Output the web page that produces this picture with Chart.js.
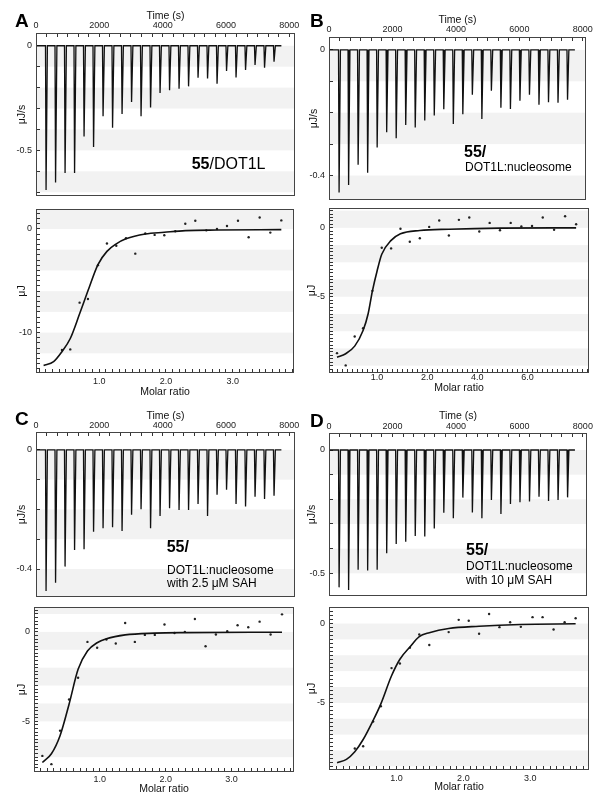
<!DOCTYPE html>
<html>
<head>
<meta charset="utf-8">
<script src="https://cdn.jsdelivr.net/npm/chart.js@4"></script>
<style>
  body { margin: 0; width: 602px; height: 806px; position: relative; overflow: hidden; background: #fff;
         font-family: "Liberation Sans", Arial, sans-serif; }
  canvas { position: absolute; }
  .t { position: absolute; white-space: nowrap; line-height: 1; color: #000; }
  .letter { font-size: 19px; font-weight: bold; }
  .big { font-size: 16px; }
  .small { font-size: 12px; }
</style>
</head>
<body>
<script>
// injection times (s), same protocol for all four runs
const injTimes = [300, 600, 900, 1200, 1500, 1800, 2100, 2400, 2700, 3000, 3300, 3600, 3900,
                  4200, 4500, 4800, 5100, 5400, 5700, 6000, 6300, 6600, 6900, 7200, 7500];
const traceEnd = 7750;

// peak heights of the raw thermograms (μJ/s)
const peaksA = [-0.689, -0.654, -0.608, -0.608, -0.434, -0.484, -0.337, -0.392, -0.326, -0.269, -0.337, -0.295, -0.226,
                -0.213, -0.205, -0.194, -0.153, -0.156, -0.181, -0.121, -0.152, -0.116, -0.092, -0.105, -0.076];
const peaksB = [-0.454, -0.430, -0.366, -0.391, -0.311, -0.262, -0.281, -0.239, -0.247, -0.225, -0.209, -0.189, -0.236,
                -0.205, -0.143, -0.220, -0.130, -0.184, -0.188, -0.162, -0.143, -0.175, -0.167, -0.168, -0.159];
const peaksC = [-0.474, -0.446, -0.392, -0.336, -0.334, -0.275, -0.263, -0.260, -0.272, -0.218, -0.199, -0.263, -0.222,
                -0.196, -0.202, -0.202, -0.182, -0.222, -0.151, -0.134, -0.182, -0.190, -0.157, -0.165, -0.154];
const peaksD = [-0.557, -0.568, -0.486, -0.489, -0.486, -0.419, -0.381, -0.372, -0.349, -0.351, -0.318, -0.254, -0.277,
                -0.193, -0.253, -0.277, -0.203, -0.259, -0.219, -0.212, -0.209, -0.189, -0.207, -0.203, -0.192];

// integrated heats (μJ) vs molar ratio, and fitted curves
const ratioA = [0.44, 0.565, 0.705, 0.83, 0.98, 1.115, 1.255, 1.40, 1.54, 1.69, 1.83, 1.975, 2.14, 2.29, 2.44, 2.605,
                2.765, 2.915, 3.08, 3.24, 3.405, 3.565, 3.73];
const heatA = [-11.68, -11.62, -7.11, -6.76, -3.49, -1.40, -1.62, -0.89, -2.38, -0.44, -0.57, -0.60, -0.22, 0.51, 0.79,
               -0.13, 0.0, 0.29, 0.79, -0.79, 1.11, -0.35, 0.83];
const fitRatioA = [0.165, 0.315, 0.44, 0.565, 0.705, 0.83, 0.98, 1.115, 1.255, 1.4, 1.69, 1.975, 2.29, 2.765, 3.73];
const fitHeatA = [-13.17, -12.8, -11.84, -10.57, -8.19, -5.97, -3.43, -2.16, -1.43, -0.95, -0.48, -0.32, -0.16, -0.1, -0.06];

// panel B axis is drawn with tick slots 1..4 labelled 1.0, 2.0, 4.0, 6.0 (as printed)
const ratioB = [0.2, 0.373, 0.553, 0.72, 0.907, 1.093, 1.28, 1.467, 1.653, 1.853, 2.04, 2.24, 2.433, 2.633, 2.84,
                3.04, 3.247, 3.453, 3.667, 3.88, 4.093, 4.307, 4.533, 4.753, 4.973];
const heatB = [-9.09, -9.98, -7.88, -7.28, -4.57, -1.44, -1.49, -0.07, -1.01, -0.75, 0.07, 0.53, -0.55, 0.58, 0.75,
               -0.26, 0.36, -0.17, 0.36, 0.1, 0.14, 0.75, -0.14, 0.84, 0.26];
const fitRatioB = [0.2, 0.373, 0.553, 0.72, 0.82, 0.907, 1.0, 1.093, 1.28, 1.467, 1.853, 2.433, 3.453, 4.973];
const fitHeatB = [-9.38, -9.13, -8.58, -7.45, -6.25, -4.57, -3.13, -1.92, -0.91, -0.43, -0.19, -0.1, -0.02, 0];

const ratioC = [0.129, 0.266, 0.397, 0.534, 0.671, 0.813, 0.96, 1.101, 1.243, 1.385, 1.532, 1.684, 1.835, 1.982,
                2.134, 2.291, 2.443, 2.605, 2.762, 2.934, 3.091, 3.253, 3.425, 3.592, 3.765];
const heatC = [-6.93, -7.39, -5.52, -3.78, -2.56, -0.56, -0.89, -0.43, -0.65, 0.5, -0.56, -0.17, -0.17, 0.41, -0.06,
               0, 0.72, -0.8, -0.15, 0.04, 0.37, 0.26, 0.57, -0.15, 0.98];
const fitRatioC = [0.129, 0.266, 0.397, 0.534, 0.671, 0.813, 0.96, 1.101, 1.385, 1.835, 2.291, 3.765];
const fitHeatC = [-7.3, -6.81, -5.8, -4.04, -2.09, -1.07, -0.61, -0.39, -0.17, -0.07, -0.04, -0.02];

const ratioD = [0.375, 0.5, 0.65, 0.765, 0.925, 1.05, 1.2, 1.34, 1.49, 1.78, 1.93, 2.08, 2.235, 2.385, 2.54, 2.7,
                2.86, 3.035, 3.185, 3.35, 3.515, 3.68];
const heatD = [-7.875, -7.73, -6.17, -5.21, -2.81, -2.52, -1.52, -0.69, -1.35, -0.54, 0.23, 0.17, -0.65, 0.6, -0.23,
               0.08, -0.21, 0.4, 0.4, -0.375, 0.08, 0.33];
const fitRatioD = [0.11, 0.25, 0.375, 0.5, 0.65, 0.765, 0.925, 1.05, 1.2, 1.34, 1.49, 1.78, 2.235, 2.85, 3.68];
const fitHeatD = [-8.77, -8.56, -8.08, -7.31, -6.1, -5.06, -3.29, -2.25, -1.48, -0.83, -0.58, -0.31, -0.17, -0.06, -0.02];

// tick labels
const timeTicks = [0, 2000, 4000, 6000, 8000];
const ratioTicks = [1, 2, 3];
const ratioTicksB = [1, 2, 3, 4];
const ratioTextB = ['1.0', '2.0', '4.0', '6.0'];

const FONT = '"Liberation Sans", Arial, sans-serif';
const TICK_FONT = { family: FONT, size: 9 };
const TITLE_FONT = { family: FONT, size: 10.5 };

// light striped background + frame round the plot area
Chart.register({
  id: 'bands',
  defaults: { step: 0, phase: 1, color: '#f2f2f2' },
  beforeDraw(chart, args, opts) {
    const { ctx, chartArea: a, scales: { y } } = chart;
    if (!opts.step) return;
    ctx.save();
    ctx.fillStyle = opts.color;
    for (let k = Math.floor(y.min / opts.step); k * opts.step < y.max; k++) {
      if (Math.abs(k % 2) !== opts.phase) continue;
      const y0 = y.getPixelForValue(Math.min((k + 1) * opts.step, y.max));
      const y1 = y.getPixelForValue(Math.max(k * opts.step, y.min));
      ctx.fillRect(a.left, y0, a.right - a.left, y1 - y0);
    }
    ctx.restore();
  },
  afterDraw(chart) {
    const { ctx, chartArea: a } = chart;
    ctx.save();
    ctx.strokeStyle = '#444';
    ctx.lineWidth = 1;
    ctx.strokeRect(a.left + 0.5, a.top + 0.5, a.right - a.left - 1, a.bottom - a.top - 1);
    ctx.restore();
  }
});

function stepValues(min, max, step) {
  const out = [];
  for (let k = Math.ceil(min / step - 1e-9); k * step <= max + 1e-9; k++) {
    out.push(Math.round(k * step * 1e6) / 1e6);
  }
  return out;
}

function labelFor(v, marks, texts) {
  const i = marks.findIndex(m => Math.abs(m - v) < 1e-6 * Math.max(1, Math.abs(m)));
  return i < 0 ? '' : texts[i];
}

// builds a thermogram trace from the read peak heights
function trace(peaks) {
  const pts = [{ x: 0, y: 0 }];
  injTimes.forEach((t, i) => {
    pts.push({ x: t, y: 0 }, { x: t + 18, y: peaks[i] }, { x: t + 60, y: 0 });
  });
  pts.push({ x: traceEnd, y: 0 });
  return pts;
}

function xy(xs, ys) {
  return xs.map((x, i) => ({ x: x, y: ys[i] }));
}

function panel(o) {
  const c = o.canvas, b = o.box;
  const cv = document.createElement('canvas');
  cv.width = c.w; cv.height = c.h;
  cv.style.left = c.x + 'px'; cv.style.top = c.y + 'px';
  document.body.appendChild(cv);

  const onTop = o.xPos === 'top';
  const tl = -4;
  const tickLH = TICK_FONT.size * 1.2, titleLH = TITLE_FONT.size * 1.2;
  const xH = onTop ? b.t - c.y : c.y + c.h - b.b;
  const yW = b.l - c.x;
  const xPad = onTop ? b.t - o.xLabelAt - tickLH / 2 - tl : o.xLabelAt - b.b - tickLH / 2 - tl;
  const xTitlePad = onTop ? { top: o.xTitleAt - c.y - titleLH / 2, bottom: 0 }
                          : { top: 0, bottom: c.y + c.h - o.xTitleAt - titleLH / 2 };
  const noPad = s => { s.paddingLeft = s.paddingRight = s.paddingTop = s.paddingBottom = 0; };
  const grid = { display: true, drawOnChartArea: false, drawTicks: true, tickLength: tl, tickColor: '#333', tickWidth: 1 };

  new Chart(cv, {
    type: 'scatter',
    data: { datasets: o.datasets },
    options: {
      responsive: false,
      animation: false,
      devicePixelRatio: 1,
      layout: { padding: { left: 0, top: onTop ? 0 : b.t - c.y, right: c.x + c.w - b.r, bottom: onTop ? c.y + c.h - b.b : 0 } },
      plugins: { legend: { display: false }, tooltip: { enabled: false }, bands: o.bands },
      scales: {
        x: {
          type: 'linear', position: o.xPos, min: o.xMin, max: o.xMax, bounds: 'data',
          afterBuildTicks: s => { s.ticks = stepValues(o.xMin, o.xMax, o.xStep).map(v => ({ value: v })); },
          afterFit: s => { s.height = xH; noPad(s); },
          grid: grid,
          border: { display: false },
          ticks: { autoSkip: false, maxRotation: 0, minRotation: 0, padding: xPad, color: '#222', font: TICK_FONT,
                   callback: v => labelFor(v, o.xMarks, o.xText) },
          title: { display: true, text: o.xTitle, color: '#111', font: TITLE_FONT, padding: xTitlePad }
        },
        y: {
          type: 'linear', position: 'left', min: o.yMin, max: o.yMax, bounds: 'data',
          afterBuildTicks: s => { s.ticks = stepValues(o.yMin, o.yMax, o.yStep).map(v => ({ value: v })); },
          afterFit: s => { s.width = yW; noPad(s); },
          grid: grid,
          border: { display: false },
          ticks: { autoSkip: false, padding: 4 - tl, color: '#222', font: TICK_FONT,
                   callback: v => labelFor(v, o.yMarks, o.yMarks.map(String)) },
          title: { display: true, text: o.yTitle, color: '#111', font: TITLE_FONT,
                   padding: { top: o.yTitleAt - c.x - titleLH / 2, bottom: 0 } }
        }
      }
    }
  });
}

function thermo(canvas, box, peaks, yMin, yMax, yMarks, xMax, at) {
  panel({
    canvas, box, xPos: 'top', xMin: 0, xMax: xMax, xStep: 2000 / 6,
    xMarks: timeTicks, xText: timeTicks.map(String), xTitle: 'Time (s)',
    yMin, yMax, yStep: 0.1, yMarks, yTitle: 'μJ/s',
    xTitleAt: at[0], xLabelAt: at[1], yTitleAt: at[2],
    bands: { step: 0.1, phase: 1 },
    datasets: [{ data: trace(peaks), showLine: true, pointRadius: 0, borderColor: '#111', borderWidth: 1.3, tension: 0 }]
  });
}

function isotherm(canvas, box, xs, ys, fx, fy, xMin, xMax, marks, texts, yMin, yMax, yStep, yMarks, bands, at) {
  panel({
    canvas, box, xPos: 'bottom', xMin, xMax, xStep: 0.1,
    xMarks: marks, xText: texts, xTitle: 'Molar ratio',
    yMin, yMax, yStep, yMarks, yTitle: 'μJ',
    xTitleAt: at[0], xLabelAt: at[1], yTitleAt: at[2],
    bands,
    datasets: [
      { data: xy(fx, fy), showLine: true, pointRadius: 0, borderColor: '#111', borderWidth: 1.6,
        tension: 0.4, cubicInterpolationMode: 'monotone' },
      { data: xy(xs, ys), pointRadius: 1.2, pointBackgroundColor: '#222', pointBorderWidth: 0 }
    ]
  });
}

const ratioText = ratioTicks.map(v => v.toFixed(1));

// A
thermo({ x: 0, y: 0, w: 307, h: 199 }, { l: 36, t: 33, r: 295, b: 196 }, peaksA, -0.718, 0.061, [0, -0.5], 8180, [16, 26, 21.7]);
isotherm({ x: 0, y: 205, w: 306, h: 194 }, { l: 36, t: 208, r: 294, b: 373 }, ratioA, heatA, fitRatioA, fitHeatA,
         0.051, 3.92, ratioTicks, ratioText, -13.9, 1.93, 0.5, [0, -10], { step: 2, phase: 0 }, [392, 381.7, 21.7]);
// B
thermo({ x: 300, y: 0, w: 298, h: 203 }, { l: 329, t: 37, r: 586, b: 200 }, peaksB, -0.478, 0.041, [0, -0.4], 8100, [20, 29.3, 314.5]);
isotherm({ x: 300, y: 204, w: 301, h: 195 }, { l: 329, t: 207, r: 589, b: 373 }, ratioB, heatB, fitRatioB, fitHeatB,
         0.04, 5.23, ratioTicksB, ratioTextB, -10.53, 1.44, 0.25, [0, -5], { step: 1.25, phase: 0 }, [388, 378, 311.7]);
// C
thermo({ x: 0, y: 400, w: 307, h: 200 }, { l: 36, t: 432, r: 295, b: 597 }, peaksC, -0.494, 0.06, [0, -0.4], 8180, [416, 426, 21.7]);
isotherm({ x: 0, y: 603, w: 306, h: 195 }, { l: 34, t: 606, r: 294, b: 772 }, ratioC, heatC, fitRatioC, fitHeatC,
         0.002, 3.947, ratioTicks, ratioText, -7.83, 1.39, 0.2, [0, -5], { step: 1, phase: 1 }, [788.7, 779.3, 21.7]);
// D
thermo({ x: 300, y: 400, w: 299, h: 199 }, { l: 329, t: 433, r: 587, b: 596 }, peaksD, -0.592, 0.069, [0, -0.5], 8130, [416, 426.5, 311.7]);
isotherm({ x: 300, y: 603, w: 301, h: 193 }, { l: 329, t: 606, r: 589, b: 770 }, ratioD, heatD, fitRatioD, fitHeatD,
         -0.011, 3.88, ratioTicks, ratioText, -9.23, 1.04, 0.25, [0, -5], { step: 1, phase: 1 }, [787.3, 778.3, 311.7]);
</script>

<div class="t letter" style="left:15px;top:10.6px">A</div>
<div class="t letter" style="left:310px;top:10.6px">B</div>
<div class="t letter" style="left:15px;top:408.9px">C</div>
<div class="t letter" style="left:310px;top:410.6px">D</div>

<div class="t big" style="left:191.7px;top:155.5px"><b>55</b>/DOT1L</div>

<div class="t big" style="left:464px;top:143.5px"><b>55/</b></div>
<div class="t small" style="left:465px;top:161.3px">DOT1L:nucleosome</div>

<div class="t big" style="left:166.7px;top:538.5px"><b>55/</b></div>
<div class="t small" style="left:167px;top:563.8px">DOT1L:nucleosome</div>
<div class="t small" style="left:167px;top:576.8px">with 2.5 μM SAH</div>

<div class="t big" style="left:466px;top:541.5px"><b>55/</b></div>
<div class="t small" style="left:466px;top:560.3px">DOT1L:nucleosome</div>
<div class="t small" style="left:466px;top:573.8px">with 10 μM SAH</div>
</body>
</html>
